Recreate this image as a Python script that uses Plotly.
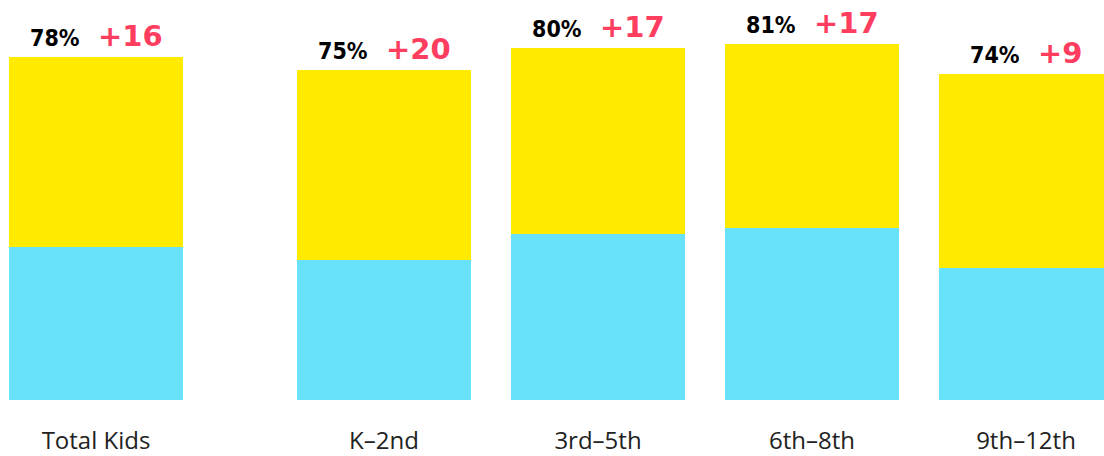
import plotly.graph_objects as go

# ---- data ----
categories = ["Total Kids", "K–2nd", "3rd–5th", "6th–8th", "9th–12th"]
total_pct = [78, 75, 80, 81, 74]          # full bar height (label %)
delta = [16, 20, 17, 17, 9]               # red change labels
base_segment = [34.7, 31.9, 37.8, 39.1, 29.9]   # blue lower segment
top_segment = [t - b for t, b in zip(total_pct, base_segment)]

BLUE = "#68E2FA"
YELLOW = "#FFEA00"
RED = "#FF3D5F"

W, H = 1104, 456
PITCH = 214.0  # px per category
fig = go.Figure()

groups = [(slice(0, 1), "x", "y"), (slice(1, 5), "x2", "y2")]
for sl, xa, ya in groups:
    cats = categories[sl]
    fig.add_trace(go.Bar(x=cats, y=base_segment[sl], marker=dict(color=BLUE, line=dict(width=0)),
                         xaxis=xa, yaxis=ya, hoverinfo="skip", showlegend=False))
    fig.add_trace(go.Bar(x=cats, y=top_segment[sl], marker=dict(color=YELLOW, line=dict(width=0)),
                         xaxis=xa, yaxis=ya, hoverinfo="skip", showlegend=False))

annotations = []
for i, (c, t, d) in enumerate(zip(categories, total_pct, delta)):
    xref = "x" if i == 0 else "x2"
    txt = (f"<span style=\"font-family:DejaVu Sans Condensed, Liberation Sans Narrow, sans-serif;"
           f"font-stretch:condensed;font-size:23px;color:#000000\"><b>{t}%</b></span>"
           f"  <b>+{d}</b>")
    annotations.append(dict(x=c, y=t, xref=xref, yref="y", text=txt, showarrow=False,
                            xanchor="center", yanchor="bottom", yshift=2,
                            font=dict(family="DejaVu Sans", size=29, color=RED)))

plot_bottom = 56
plot_h = H - plot_bottom
px_per_unit = 4.4
y_range = [0, plot_h / px_per_unit]

d1_end = 276
d2_start = 277
axis_common = dict(showgrid=False, zeroline=False, showline=False, ticks="",
                   tickfont=dict(family="Open Sans", size=24, color="#222222"),
                   ticklabelstandoff=24, fixedrange=True)

fig.update_layout(
    width=W, height=H,
    margin=dict(l=0, r=0, t=0, b=plot_bottom),
    paper_bgcolor="white", plot_bgcolor="white",
    barmode="stack",
    bargap=40 / PITCH,
    showlegend=False,
    xaxis=dict(domain=[0, d1_end / W], range=[-96 / PITCH, (d1_end - 96) / PITCH],
               type="category", anchor="y", **axis_common),
    xaxis2=dict(domain=[d2_start / W, 1], range=[-0.5, -0.5 + (W - d2_start) / PITCH],
                type="category", anchor="y2", **axis_common),
    yaxis=dict(range=y_range, visible=False, fixedrange=True),
    yaxis2=dict(range=y_range, visible=False, matches="y", anchor="x2", fixedrange=True),
    annotations=annotations,
)

fig.write_html("out.html", config={"displayModeBar": False},
               post_script="document.body.style.margin='0';document.body.style.padding='0';")
